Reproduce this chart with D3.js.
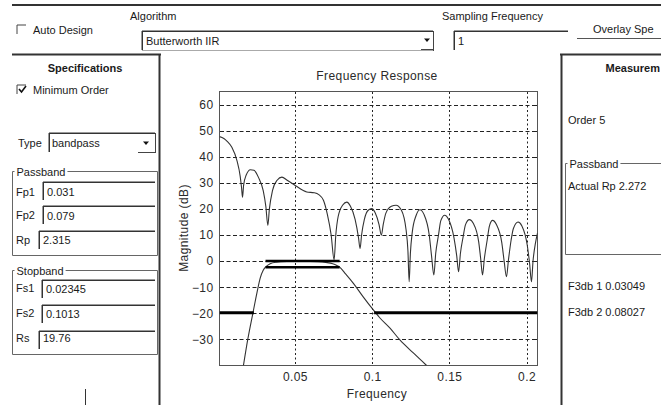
<!DOCTYPE html>
<html>
<head>
<meta charset="utf-8">
<script src="https://cdn.jsdelivr.net/npm/d3@7"></script>
<style>
body { margin: 0; background: #fff; }
svg { display: block; font-family: "Liberation Sans", Arial, sans-serif; }
.ui { font-size: 11px; fill: #1a1a1a; }
.ax { font-size: 12px; fill: #2a2a2a; letter-spacing: 0.4px; }
</style>
</head>
<body>
<svg id="svg1" width="661" height="405"></svg>
<script>
// plot limits and ticks
var xLim = [0.0012, 0.2071],
  yLim = [-40, 65];
var xTicks = [0.05, 0.1, 0.15, 0.2],
  yTicks = [-30, -20, -10, 0, 10, 20, 30, 40, 50, 60];

// filter specs (from the form)
var fp1 = 0.031, fp2 = 0.079, rp = 2.315;
var fs1 = 0.02345, fs2 = 0.1013, rs = 19.76;

// overlaid lobed curve [freq, dB]
var lobedCurve = [
  [0.0012,47.7],[0.004,47.0],[0.006,46.0],[0.0092,43.6],[0.0125,38.5],[0.0146,32.5],
  [0.0155,28],[0.0161,24.5],[0.0168,29],[0.0185,33],[0.0212,35],[0.0235,34.8],
  [0.0265,32],[0.0295,27],[0.0312,21],[0.0325,13.7],[0.0335,20],[0.0355,27],
  [0.0385,31],[0.0416,32.2],[0.045,31],[0.0502,29],[0.0577,26.5],[0.0625,26.2],
  [0.0655,25.5],[0.0685,23.3],[0.071,18],[0.0735,10],[0.0754,0.5],[0.0765,10],
  [0.078,17],[0.081,21.5],[0.0836,22.6],[0.086,21],[0.089,16],[0.0912,9],
  [0.0922,4.8],[0.0932,10],[0.095,16],[0.0975,19.5],[0.0998,20.1],[0.102,18.5],
  [0.1045,14],[0.106,9.9],[0.1072,14],[0.109,18.5],[0.1125,21],[0.1155,21.4],
  [0.119,19.5],[0.122,12],[0.1232,4],[0.124,-7.9],[0.1248,3],[0.126,11],
  [0.1285,17.5],[0.131,19.7],[0.1335,18],[0.137,10],[0.1385,2],[0.140,-5.3],
  [0.1412,3],[0.143,10],[0.1445,15.5],[0.147,17.6],[0.1495,16],[0.153,9],
  [0.1548,2],[0.156,-4.1],[0.1572,3],[0.159,9.5],[0.1605,14],[0.163,15.9],
  [0.1655,14.5],[0.169,7.5],[0.1703,1],[0.1715,-5.3],[0.1727,1],[0.1745,8],
  [0.176,13.5],[0.178,15.6],[0.1805,14],[0.184,7],[0.1855,0],[0.187,-6],
  [0.1883,0.5],[0.190,8],[0.1915,12.5],[0.1945,15],[0.197,13.5],[0.2005,6],
  [0.202,-1],[0.2032,-7.9],[0.2042,0],[0.2058,7],[0.2071,10.7]
];

// bandpass response [freq, dB]
var response = [
  [0.0167,-40],[0.0195,-30],[0.0228,-20],[0.0255,-12],[0.0275,-6.6],[0.0295,-3.5],
  [0.031,-2.3],[0.034,-1.0],[0.038,-0.4],[0.045,-0.1],[0.055,0],[0.065,-0.2],
  [0.070,-0.5],[0.0745,-1.0],[0.0775,-1.8],[0.079,-2.3],[0.083,-5],[0.0879,-8.5],
  [0.094,-13.5],[0.1008,-18.7],[0.1051,-21.8],[0.1116,-25.7],[0.118,-30.2],
  [0.1267,-35.2],[0.1353,-40]
];

var svg = d3.select("#svg1");

function txt(x, y, s, cls, extra) {
  var t = svg.append("text").attr("x", x).attr("y", y).attr("class", cls || "ui").text(s);
  if (extra) for (var k in extra) t.attr(k, extra[k]);
  return t;
}
function ln(x1, y1, x2, y2, c, w) {
  svg.append("line").attr("x1", x1).attr("y1", y1).attr("x2", x2).attr("y2", y2)
    .attr("stroke", c || "#555").attr("stroke-width", w || 1);
}
function sunken(x1, y1, x2, y2) {
  ln(x1, y1 - 0.5, x2, y1 - 0.5, "#9a9a9a");
  ln(x1 - 0.5, y1, x1 - 0.5, y2, "#9a9a9a");
  ln(x1, y1 + 0.5, x2, y1 + 0.5, "#333");
  ln(x1 + 0.5, y1, x1 + 0.5, y2, "#333");
}
// etched group frame; top line starts after the label
function groupBox(x1, y1, x2, y2, label, open) {
  var t = txt(x1 + 4, y1 + 4, label);
  var end = x1 + 4 + t.node().getComputedTextLength() + 2;
  ln(x1, y1, x1, y2, "#666");
  ln(x1, y2, x2, y2, "#666");
  if (!open) ln(x2, y1, x2, y2, "#666");
  ln(end, y1, x2, y1, "#666");
  ln(x1, y1, x1 + 2, y1, "#666");
}
function checkbox(x, y, checked) {
  ln(x, y, x + 9, y, "#444");
  ln(x, y, x, y + 9, "#444");
  if (checked) {
    svg.append("path").attr("d", "M" + (x + 2) + "," + (y + 4) + " l2.5,3 l4.5,-6")
      .attr("fill", "none").attr("stroke", "#111").attr("stroke-width", 1.6);
  }
}
function arrow(x, y) {
  svg.append("path").attr("d", "M" + (x - 3) + "," + (y - 1.5) + " h6 l-3,3.5 z").attr("fill", "#111");
}

// ---- top bar ----
ln(12, 5, 661, 5, "#333", 2);
checkbox(17, 25, false);
txt(33, 34, "Auto Design");
txt(130, 20, "Algorithm");
sunken(142, 31, 433, 50);
ln(142, 50.5, 433, 50.5, "#aaa");
ln(433.5, 31, 433.5, 51, "#444");
ln(421, 49.5, 433, 49.5, "#444");
arrow(427, 40);
txt(146, 45, "Butterworth IIR");
txt(442, 20, "Sampling Frequency");
sunken(454, 31, 568, 50);
txt(458, 45, "1");
txt(593, 33, "Overlay Spe");
ln(577, 38.5, 661, 38.5, "#555");

// ---- left panel ----
ln(12, 54.5, 161, 54.5, "#333", 2);
ln(159.5, 54, 159.5, 405, "#333", 2);
txt(85, 72, "Specifications", "ui", {"font-weight": "bold", "text-anchor": "middle", "font-size": "11.5px"});
checkbox(17, 85, true);
txt(33, 94, "Minimum Order");
txt(18, 147, "Type");
sunken(49, 133, 155, 152);
ln(155.5, 133, 155.5, 153, "#444");
ln(138, 152.5, 155, 152.5, "#444");
arrow(146, 143);
txt(52, 147, "bandpass");

groupBox(12.5, 171.5, 157.5, 255.5, "Passband");
txt(16, 196, "Fp1"); sunken(43, 182, 155, 200); txt(47, 196, String(fp1));
txt(16, 219, "Fp2"); sunken(43, 206, 155, 224); txt(47, 220, String(fp2));
txt(16, 244, "Rp"); sunken(39, 231, 155, 249); txt(43, 244, String(rp));

groupBox(12.5, 270.5, 157.5, 354.5, "Stopband");
txt(16, 292, "Fs1"); sunken(42, 280, 155, 298); txt(46, 293, String(fs1));
txt(16, 317, "Fs2"); sunken(42, 305, 155, 323); txt(46, 318, String(fs2));
txt(16, 342, "Rs"); sunken(39, 331, 155, 349); txt(43, 342, String(rs));
ln(85.5, 389, 85.5, 405, "#333");

// ---- right panel ----
ln(560, 54.5, 661, 54.5, "#333", 2);
ln(561.5, 54, 561.5, 405, "#333", 2);
txt(660, 72, "Measurem", "ui", {"font-weight": "bold", "font-size": "11.5px", "text-anchor": "end"});
txt(568, 124, "Order  5");
groupBox(565.5, 163.5, 662, 254.5, "Passband", true);
txt(568, 190, "Actual Rp  2.272");
txt(568, 290, "F3db 1  0.03049");
txt(568, 316, "F3db 2  0.08027");

// ---- plot ----
var x = d3.scaleLinear().domain(xLim).range([219.5, 537.5]),
  y = d3.scaleLinear().domain(yLim).range([365.5, 91.5]);

svg.append("clipPath").attr("id", "clip").append("rect")
  .attr("x", 219.5).attr("y", 91.5).attr("width", 318).attr("height", 274);

var g = svg.append("g");
g.selectAll(".hgrid").data(yTicks).enter().append("line")
  .attr("x1", 220).attr("x2", 537).attr("y1", function(d) { return Math.round(y(d)) + 0.5; })
  .attr("y2", function(d) { return Math.round(y(d)) + 0.5; })
  .attr("stroke", "#222").attr("stroke-dasharray", "4,2.5");
g.selectAll(".vgrid").data(xTicks).enter().append("line")
  .attr("y1", 92).attr("y2", 365).attr("x1", function(d) { return Math.round(x(d)) + 0.5; })
  .attr("x2", function(d) { return Math.round(x(d)) + 0.5; })
  .attr("stroke", "#222").attr("stroke-dasharray", "2,2.5");

g.append("g").attr("transform", "translate(219.5,0)")
  .call(d3.axisLeft(y).tickValues(yTicks).tickSize(0).tickPadding(6).tickFormat(d3.format("d")))
  .call(function(a) { a.select(".domain").remove(); a.selectAll("text").attr("class", "ax").attr("fill", null).style("font-size", "12px"); });
g.append("g").attr("transform", "translate(0,365.5)")
  .call(d3.axisBottom(x).tickValues(xTicks).tickSize(0).tickPadding(7).tickFormat(function(d) { return String(d); }))
  .call(function(a) { a.select(".domain").remove(); a.selectAll("text").attr("class", "ax").attr("fill", null).style("font-size", "12px"); });

// inner ticks on right side
g.selectAll(".rt").data(yTicks).enter().append("line")
  .attr("x1", 534).attr("x2", 537.5).attr("y1", function(d) { return Math.round(y(d)) + 0.5; })
  .attr("y2", function(d) { return Math.round(y(d)) + 0.5; }).attr("stroke", "#222");

g.append("rect").attr("x", 219.5).attr("y", 91.5).attr("width", 318).attr("height", 274)
  .attr("fill", "none").attr("stroke", "#555");

var line = d3.line()
  .x(function(d) { return x(d[0]); })
  .y(function(d) { return y(d[1]); })
  .curve(d3.curveMonotoneX);

var curves = g.append("g").attr("clip-path", "url(#clip)");
curves.append("path").datum(lobedCurve).attr("d", line)
  .attr("fill", "none").attr("stroke", "#333").attr("stroke-width", 1.1);
curves.append("path").datum(response).attr("d", line)
  .attr("fill", "none").attr("stroke", "#333").attr("stroke-width", 1.1);

// spec masks
var specLines = [
  {f: [xLim[0], fs1], v: -rs, w: 3},
  {f: [fs2, xLim[1]], v: -rs, w: 3},
  {f: [fp1, fp2], v: 0, w: 2.5},
  {f: [fp1, fp2], v: -rp, w: 2.5}
];
curves.selectAll(".spec").data(specLines).enter().append("line")
  .attr("x1", function(d) { return x(d.f[0]); }).attr("x2", function(d) { return x(d.f[1]); })
  .attr("y1", function(d) { return y(d.v); }).attr("y2", function(d) { return y(d.v); })
  .attr("stroke", "#000").attr("stroke-width", function(d) { return d.w; });

txt(377, 80, "Frequency Response", "ax", {"text-anchor": "middle", "font-size": "12.5px"});
txt(377, 398, "Frequency", "ax", {"text-anchor": "middle"});
txt(0, 0, "Magnitude (dB)", "ax", {"text-anchor": "middle", "transform": "translate(188,228) rotate(-90)"});
</script>
</body>
</html>
